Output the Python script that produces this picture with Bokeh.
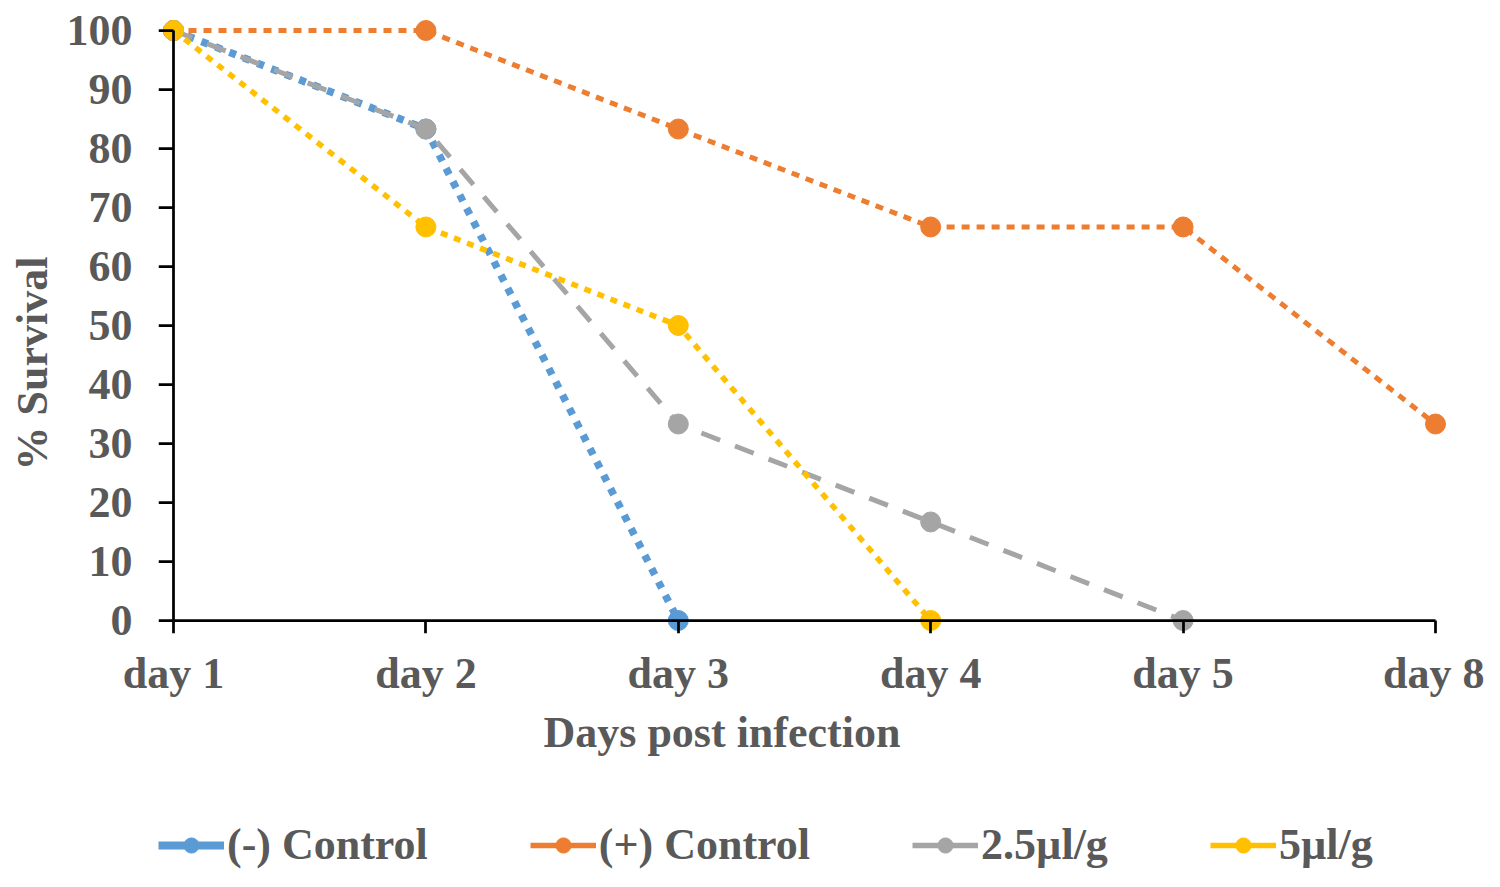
from bokeh.plotting import figure
from bokeh.layouts import column
from bokeh.models import Legend, LegendItem, Title, FixedTicker, Range1d, LinearAxis
from bokeh.embed import file_html
from bokeh.resources import INLINE

# ---- data ----
days = ["day 1", "day 2", "day 3", "day 4", "day 5", "day 8"]
neg_control = [100, 83.3, 0]
pos_control = [100, 100, 83.3, 66.7, 66.7, 33.3]
dose_2_5 = [100, 83.3, 33.3, 16.7, 0]
dose_5 = [100, 66.7, 50, 0]
series_names = ["(-) Control", "(+) Control", "2.5\u00b5l/g", "5\u00b5l/g"]
y_ticks = [0, 10, 20, 30, 40, 50, 60, 70, 80, 90, 100]

colors = ["#5B9BD5", "#ED7D31", "#A5A5A5", "#FFC000"]
widths = [7.5, 5, 5, 5.5]
dashes = ["7 8", "8 7", "20 16", "7 7"]
legend_widths = [8, 5.5, 5.5, 5.5]

FONT = "Liberation Serif"
TXT = "#595959"
FS = "44px"

# ---- layout (pixels) ----
W = 1484
H1, H2 = 790, 80
LEFT, RIGHT, TOP, BOTTOM = 158, 36, 16, 157
fw = W - LEFT - RIGHT
fh = H1 - TOP - BOTTOM
TICK_Y = 15     # distance frame-left -> x=0
TICK_X = 13     # distance frame-bottom -> y=0
px_x = (1435 - 173) / 5
px_y = (620 - 30) / 100
x0 = -TICK_Y / px_x
y0 = -TICK_X / px_y

p = figure(width=W, height=H1, output_backend="svg", toolbar_location=None,
           x_range=Range1d(x0, x0 + fw / px_x), y_range=Range1d(y0, y0 + fh / px_y),
           min_border_left=LEFT, min_border_right=RIGHT,
           min_border_top=TOP, min_border_bottom=BOTTOM)
p.outline_line_color = None
p.grid.visible = False
p.background_fill_color = "white"
p.border_fill_color = "white"

# axis lines + ticks through the data origin (labels carried by the outer axes)
for ax in (p.xaxis[0], p.yaxis[0]):
    ax.fixed_location = 0
    ax.axis_line_color = "black"
    ax.axis_line_width = 2.75
    ax.major_tick_line_color = "black"
    ax.major_tick_line_width = 2.75
    ax.minor_tick_line_color = None
    ax.major_tick_in = 0
    ax.major_label_text_font_size = "1px"
    ax.major_label_text_color = None
    ax.major_label_standoff = 0
p.xaxis.ticker = FixedTicker(ticks=list(range(len(days))))
p.xaxis.bounds = (0, len(days) - 1)
p.xaxis.major_tick_out = TICK_X
p.yaxis.ticker = FixedTicker(ticks=y_ticks)
p.yaxis.bounds = (0, 100)
p.yaxis.major_tick_out = TICK_Y

# label axes
xlab = LinearAxis(ticker=FixedTicker(ticks=list(range(len(days)))),
                  major_label_overrides={i: d for i, d in enumerate(days)},
                  major_label_standoff=9)
ylab = LinearAxis(ticker=FixedTicker(ticks=y_ticks), major_label_standoff=20)
for ax in (xlab, ylab):
    ax.axis_line_color = None
    ax.major_tick_line_color = None
    ax.minor_tick_line_color = None
    ax.major_label_text_font = FONT
    ax.major_label_text_font_style = "bold"
    ax.major_label_text_font_size = FS
    ax.major_label_text_color = TXT
p.add_layout(xlab, "below")
p.add_layout(ylab, "left")

p.add_layout(Title(text="Days post infection", align="left", offset=543 - LEFT,
                   text_font=FONT, text_font_style="bold", text_font_size=FS,
                   text_color=TXT), "below")
p.add_layout(Title(text="% Survival", align="left", offset=163, vertical_align="top",
                   text_font=FONT, text_font_style="bold", text_font_size=FS,
                   text_color=TXT), "left")

all_series = [neg_control, pos_control, dose_2_5, dose_5]
for ys, c, w, d in zip(all_series, colors, widths, dashes):
    xs = list(range(len(ys)))
    p.line(xs, ys, line_color=c, line_width=w, line_dash=d)
    p.scatter(xs, ys, size=20, fill_color=c, line_color=c)

# ---- legend strip ----
q = figure(width=W, height=H2, output_backend="svg", toolbar_location=None,
           x_range=Range1d(0, 1), y_range=Range1d(0, 1),
           x_axis_type=None, y_axis_type=None, min_border=0)
q.outline_line_color = None
q.grid.visible = False
nan = float("nan")
items = []
for name, c, lw in zip(series_names, colors, legend_widths):
    r_line = q.line([nan], [nan], line_color=c, line_width=lw)
    r_dot = q.scatter([nan], [nan], size=16, fill_color=c, line_color=c)
    items.append(LegendItem(label=name, renderers=[r_line, r_dot]))
legend = Legend(items=items, orientation="horizontal", location=(0, 0),
                glyph_width=66, glyph_height=38, label_standoff=3, spacing=102,
                margin=0, padding=0,
                label_text_font=FONT, label_text_font_style="bold",
                label_text_font_size=FS, label_text_color=TXT,
                border_line_color=None, background_fill_alpha=0)
q.add_layout(legend, "center")

layout = column(p, q, spacing=0)
open("out.html", "w").write(file_html(layout, INLINE))
